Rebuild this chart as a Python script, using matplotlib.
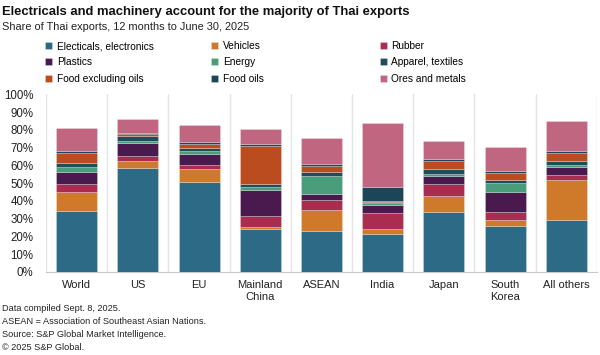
import matplotlib
matplotlib.use('Agg')
import matplotlib.pyplot as plt
import numpy as np

plt.rcParams['font.family'] = ['Liberation Sans', 'DejaVu Sans']

regions = ["World", "US", "EU", "Mainland\nChina", "ASEAN", "India", "Japan", "South\nKorea", "All others"]

# share of Thai exports (%), bottom to top of each stack
electricals = [34.5, 58.6, 50.9, 24.0, 23.3, 21.6, 34.0, 25.7, 29.5]
vehicles    = [10.7, 3.9, 7.3, 1.4, 11.8, 2.8, 8.6, 3.8, 22.3]
rubber      = [4.4, 2.9, 2.1, 6.1, 5.5, 8.8, 6.8, 4.1, 2.8]
plastics    = [6.6, 7.4, 6.2, 14.9, 3.2, 4.4, 4.9, 11.5, 4.4]
energy      = [3.1, 1.2, 1.5, 1.7, 10.5, 1.1, 1.1, 5.2, 1.3]
apparel     = [1.9, 2.6, 2.0, 1.3, 1.9, 0.7, 2.6, 1.4, 2.1]
food_excl   = [5.8, 1.1, 2.1, 21.8, 3.7, 0.8, 4.7, 4.1, 4.6]
food_oils   = [1.0, 0.8, 1.0, 0.9, 0.9, 7.5, 1.0, 0.9, 1.0]
ores        = [13.3, 7.7, 9.5, 8.3, 14.9, 36.1, 10.1, 13.7, 16.9]

series = [
    ("Electicals, electronics", electricals, "#2d6a86"),
    ("Vehicles", vehicles, "#cf7a2b"),
    ("Rubber", rubber, "#a82d4f"),
    ("Plastics", plastics, "#4a1a4e"),
    ("Energy", energy, "#4a9d7b"),
    ("Apparel, textiles", apparel, "#1f4d5c"),
    ("Food excluding oils", food_excl, "#bb4c1f"),
    ("Food oils", food_oils, "#1c4557"),
    ("Ores and metals", ores, "#c06680"),
]

fig = plt.figure(figsize=(6, 3.55), dpi=100)
ax = fig.add_axes([0.0767, 0.234, 0.918, 0.5])

x = np.arange(len(regions))
bottom = np.zeros(len(regions))
handles = []
for name, vals, col in series:
    b = ax.bar(x, vals, width=0.67, bottom=bottom, color=col, label=name,
               edgecolor=(1, 1, 1, 0.35), linewidth=0.5, zorder=3)
    handles.append(b)
    bottom += np.array(vals)

ax.set_xlim(-0.5, len(regions) - 0.5)
ax.set_ylim(0, 100)
ax.set_yticks(np.arange(0, 101, 10))
ax.set_yticklabels([f"{v}%" for v in range(0, 101, 10)], fontsize=8.3, color="#222222")
ax.set_xticks(x)
ax.set_xticklabels(regions, fontsize=8, color="#222222")
ax.set_xticks(np.arange(-0.5, len(regions), 1), minor=True)
ax.grid(axis="x", which="minor", color="#e4e4e4", linewidth=1, zorder=0)
ax.tick_params(axis="both", which="both", length=0)
ax.tick_params(axis="y", pad=9)
ax.tick_params(axis="x", pad=6)
for s in ["top", "right", "left"]:
    ax.spines[s].set_visible(False)
ax.spines["bottom"].set_color("#c8c8c8")

fig.text(0.004, 0.966, "Electricals and machinery account for the majority of Thai exports",
         fontsize=9.4, fontweight="bold", color="#111111", va="center")
fig.text(0.004, 0.923, "Share of Thai exports, 12 months to June 30, 2025",
         fontsize=7.9, color="#222222", va="center")

# legend: three columns placed separately
col_x = [0.075, 0.352, 0.633]
for c in range(3):
    hs = [handles[r * 3 + c] for r in range(3)]
    fig.legend(hs, [h.get_label() for h in hs], loc="upper left",
               bbox_to_anchor=(col_x[c], 0.884), frameon=False, fontsize=7.3,
               handlelength=0.7, handleheight=0.7, handletextpad=0.45,
               labelspacing=0.62, borderpad=0, borderaxespad=0)

notes = ["Data compiled Sept. 8, 2025.",
         "ASEAN = Association of Southeast Asian Nations.",
         "Source: S&P Global Market Intelligence.",
         "\u00a9 2025 S&P Global."]
for i, t in enumerate(notes):
    fig.text(0.004, 0.130 - i * 0.036, t, fontsize=6.6, color="#222222", va="center")

plt.savefig("out.png", dpi=100)
